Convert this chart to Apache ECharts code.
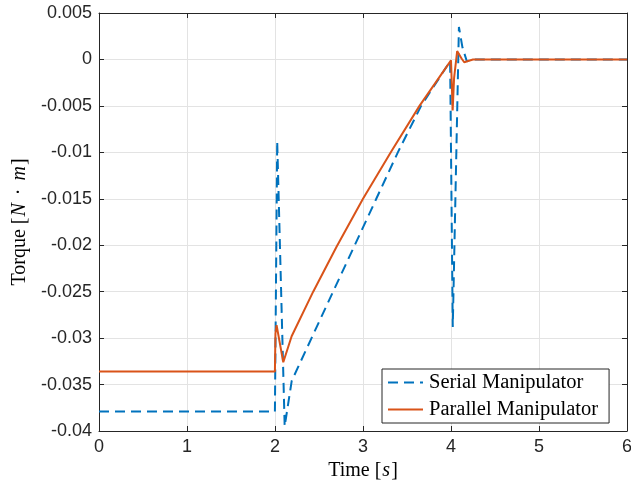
<!DOCTYPE html>
<html>
<head>
<meta charset="utf-8">
<script src="https://cdn.jsdelivr.net/npm/echarts@6/dist/echarts.min.js"></script>
<style>html,body{margin:0;padding:0;background:#fff}#c{width:631px;height:489px}</style>
</head>
<body>
<div id="c"></div>
<script>
// Time (s) and torque (N·m) values
var serialT = [0, 1.999, 2.025, 2.11, 2.19, 2.415, 2.66, 2.906, 3.151, 3.396, 3.66, 3.99, 4.02, 4.09, 4.13, 4.18, 4.25, 6];
var serialV = [-0.0379, -0.0379, -0.0088, -0.0395, -0.0346, -0.030, -0.025, -0.020, -0.015, -0.010, -0.005, -0.0002, -0.0288, 0.0035, 0.0013, -0.0002, 0.0, 0.0];
var parallelT = [0, 1.999, 2.005, 2.018, 2.094, 2.189, 2.434, 2.698, 3.0, 3.321, 3.642, 4.0, 4.019, 4.035, 4.07, 4.12, 4.15, 4.25, 6];
var parallelV = [-0.0336, -0.0336, -0.0295, -0.0286, -0.0326, -0.0298, -0.025, -0.0202, -0.015, -0.0099, -0.005, -0.0001, -0.0055, -0.002, 0.0009, 0.0001, -0.0003, 0.0, 0.0];
var xTicks = [0, 1, 2, 3, 4, 5, 6];
var yTicks = [-0.04, -0.035, -0.03, -0.025, -0.02, -0.015, -0.01, -0.005, 0, 0.005];
var seriesNames = ['Serial Manipulator', 'Parallel Manipulator'];

function pairs(t, v) { return t.map(function (x, i) { return [x, v[i]]; }); }
var axisCol = '#262626';
var sans = 'Liberation Sans';
var serif = 'Liberation Serif';
var fs = 20;
var richName = {
  r: {fontFamily: serif, fontSize: fs, color: '#000'},
  i: {fontFamily: serif, fontSize: fs, fontStyle: 'italic', color: '#000', padding: [0, 1]},
  d: {fontFamily: serif, fontSize: fs, color: '#000', padding: [0, 7]}
};

var chart = echarts.init(document.getElementById('c'), null, {renderer: 'canvas'});
chart.setOption({
  animation: false,
  backgroundColor: '#ffffff',
  grid: {left: 99, right: 4, top: 13, bottom: 58, containLabel: false, outerBoundsMode: 'none'},
  legend: {
    orient: 'vertical', left: 382, top: 369,
    data: seriesNames,
    backgroundColor: '#ffffff',
    borderColor: axisCol, borderWidth: 1,
    padding: [3, 11, 3, 5],
    itemGap: 6, itemWidth: 35, itemHeight: 14,
    itemStyle: {opacity: 0},
    textStyle: {fontFamily: serif, fontSize: 20.5, color: '#000', padding: [0, 0, 0, 1]}
  },
  xAxis: [{
    type: 'value', min: xTicks[0], max: xTicks[xTicks.length - 1], interval: 1,
    position: 'bottom',
    name: '{r|Time [}{i|s}{r|]}', nameLocation: 'middle', nameGap: 25,
    nameTextStyle: {rich: richName},
    axisLine: {show: true, onZero: false, lineStyle: {color: axisCol, width: 1}},
    axisTick: {show: true, inside: true, length: 5, lineStyle: {color: axisCol}},
    axisLabel: {color: axisCol, fontFamily: sans, fontSize: 18, margin: 7},
    splitLine: {show: true, lineStyle: {color: '#e3e3e3', width: 1}}
  }, {
    type: 'value', min: xTicks[0], max: xTicks[xTicks.length - 1], interval: 1,
    position: 'top',
    axisLine: {show: true, onZero: false, lineStyle: {color: axisCol, width: 1}},
    axisTick: {show: true, inside: true, length: 5, lineStyle: {color: axisCol}},
    axisLabel: {show: false}, splitLine: {show: false}
  }],
  yAxis: [{
    type: 'value', min: yTicks[0], max: yTicks[yTicks.length - 1], interval: 0.005,
    position: 'left',
    name: '{r|Torque [}{i|N}{d|·}{i|m}{r|]}', nameLocation: 'middle', nameGap: 64, nameRotate: 90,
    nameTextStyle: {rich: richName},
    axisLine: {show: true, onZero: false, lineStyle: {color: axisCol, width: 1}},
    axisTick: {show: true, inside: true, length: 5, lineStyle: {color: axisCol}},
    axisLabel: {color: axisCol, fontFamily: sans, fontSize: 18, margin: 7,
      formatter: function (v) { return String(parseFloat(v.toFixed(3))); }},
    splitLine: {show: true, lineStyle: {color: '#e3e3e3', width: 1}}
  }, {
    type: 'value', min: yTicks[0], max: yTicks[yTicks.length - 1], interval: 0.005,
    position: 'right',
    axisLine: {show: true, onZero: false, lineStyle: {color: axisCol, width: 1}},
    axisTick: {show: true, inside: true, length: 5, lineStyle: {color: axisCol}},
    axisLabel: {show: false}, splitLine: {show: false}
  }],
  series: [{
    name: seriesNames[0], type: 'line', data: pairs(serialT, serialV),
    showSymbol: false, symbol: 'none', color: '#0072BD',
    lineStyle: {color: '#0072BD', width: 2, type: [10, 6]}
  }, {
    name: seriesNames[1], type: 'line', data: pairs(parallelT, parallelV),
    showSymbol: false, symbol: 'none', color: '#D95319',
    lineStyle: {color: '#D95319', width: 2, type: 'solid'}
  }]
});
</script>
</body>
</html>
